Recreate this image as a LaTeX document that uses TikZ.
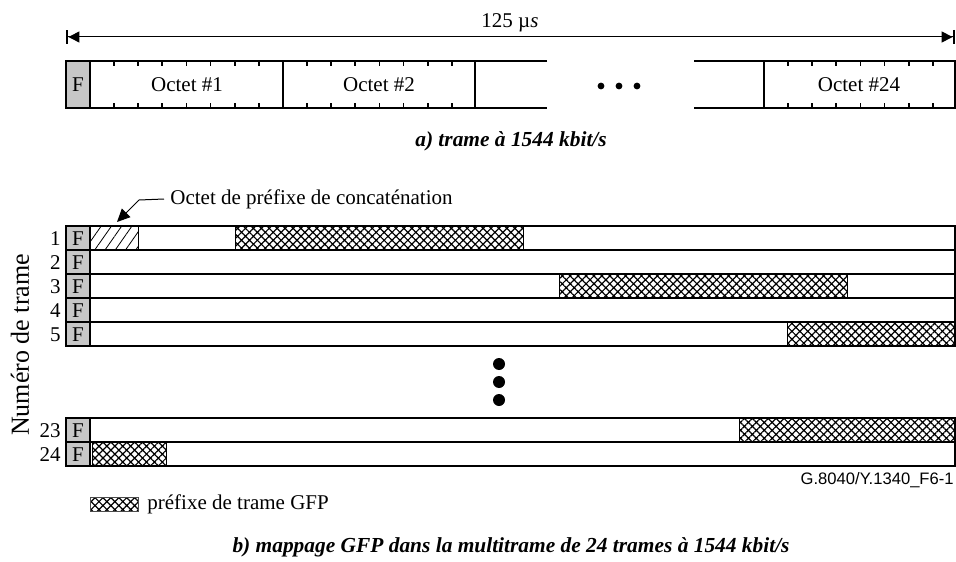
\documentclass[tikz,border=0pt]{standalone}
\usepackage{fontspec}
\setmainfont{Liberation Serif}
\newfontfamily\refsans{Liberation Sans}
\usetikzlibrary{arrows.meta,patterns.meta}

\begin{document}
\begin{tikzpicture}[
    x=0.5pt,y=-0.5pt,
    every node/.style={font=\fontsize{10.5}{12}\selectfont, inner sep=0pt},
    cell/.style={draw=black, line width=0.6pt},
    fcell/.style={fill=black!22},
    gfp/.style={draw=black!70, line width=0.3pt, pattern={Hatch[angle=45,distance=2.8pt,line width=0.6pt]}},
    concat/.style={draw=black, line width=0.3pt, pattern={Lines[angle=55,distance=4.2pt,line width=0.4pt]}},
    tick/.style={line width=0.9pt},
    caption/.style={font=\fontsize{10.7}{12}\selectfont\bfseries\itshape},
    pointer/.style={line width=0.5pt, -{Triangle[length=6.5pt,width=6pt]}},
    span/.style={line width=0.5pt, {Bar[width=7pt,line width=1.2pt]Triangle[length=5.5pt,width=5.5pt,sep=0pt]}-{Triangle[length=5.5pt,width=5.5pt,sep=0pt]Bar[width=7pt,line width=1.2pt]}}
]
    \useasboundingbox (0,0) rectangle (956,561);

    % a) trame a 1544 kbit/s
    \coordinate (spanL) at (66,37);
    \coordinate (spanR) at (955,37);
    \draw[span] (spanL) -- (spanR);
    \node (dur) at (510,23) {125 µ\textit{s}};

    \fill[fcell] (66,61) rectangle (90,108);
    \draw[cell] (547,61) -- (66,61) -- (66,108) -- (547,108);
    \draw[cell] (694,61) -- (955,61) -- (955,108) -- (694,108);
    \foreach \x in {90,283,475,764} {
        \draw[cell] (\x,61) -- (\x,108);
    }
    \foreach \s in {90,283,764} {
        \foreach \i in {1,...,7} {
            \draw[tick] (\s+\i*24.1,61) -- ++(0,5);
            \draw[tick] (\s+\i*24.1,108) -- ++(0,-5);
        }
    }
    \node (fa) at (78,85) {F};
    \node (oct1) at (187,85) {Octet \#1};
    \node (oct2) at (379,85) {Octet \#2};
    \node (oct24) at (859,85) {Octet \#24};
    \foreach \x in {601,619,637} {
        \fill (\x,86) circle (3.4);
    }
    \node[caption] (capa) at (511,141) {a) trame à 1544 kbit/s};

    % b) multitrame
    \fill[gfp] (235,226) rectangle (523,250);
    \fill[concat] (90,226) rectangle (138,250);
    \fill[gfp] (559,274) rectangle (847,298);
    \fill[gfp] (787,322) rectangle (955,346);
    \fill[gfp] (739,418) rectangle (955,442);
    \fill[gfp] (92,442) rectangle (166,466);
    \draw[line width=0.3pt] (90,226) rectangle (138,250);
    \foreach \x in {235,523} \draw[line width=0.3pt] (\x,226) -- (\x,250);
    \foreach \x in {559,847} \draw[line width=0.3pt] (\x,274) -- (\x,298);
    \draw[line width=0.3pt] (787,322) -- (787,346);
    \draw[line width=0.3pt] (739,418) -- (739,442);
    \foreach \x in {92,166} \draw[line width=0.3pt] (\x,442) -- (\x,466);

    \foreach \n/\y in {1/226,2/250,3/274,4/298,5/322,23/418,24/442} {
        \fill[fcell] (66,\y) rectangle (90,\y+24);
        \draw[cell] (66,\y) rectangle (955,\y+24);
        \draw[cell] (90,\y) -- (90,\y+24);
        \node (f\n) at (78,\y+12.5) {F};
        \node[anchor=east] (num\n) at (61,\y+12.5) {\n};
    }
    \foreach \y in {364,382,400} {
        \fill (499,\y) circle (6);
    }
    \node[rotate=90, font=\fontsize{13}{15}\selectfont] (axis) at (20,345) {Numéro de trame};

    \node[anchor=west] (conc) at (170,199) {Octet de préfixe de concaténation};
    \coordinate (bend) at (139,200);
    \coordinate (tip) at (117,222);
    \draw[pointer] ([xshift=-3pt]conc.west) -- (bend) -- (tip);

    \node[anchor=east, font=\refsans\fontsize{8.3}{10}\selectfont] (ref) at (954,480) {G.8040/Y.1340\_F6-1};

    \draw[gfp] (90,497) rectangle (138,511);
    \node[anchor=west] (leg) at (147,504) {préfixe de trame GFP};

    \node[caption] (capb) at (511,547) {b) mappage GFP dans la multitrame de 24 trames à 1544 kbit/s};
\end{tikzpicture}
\end{document}
